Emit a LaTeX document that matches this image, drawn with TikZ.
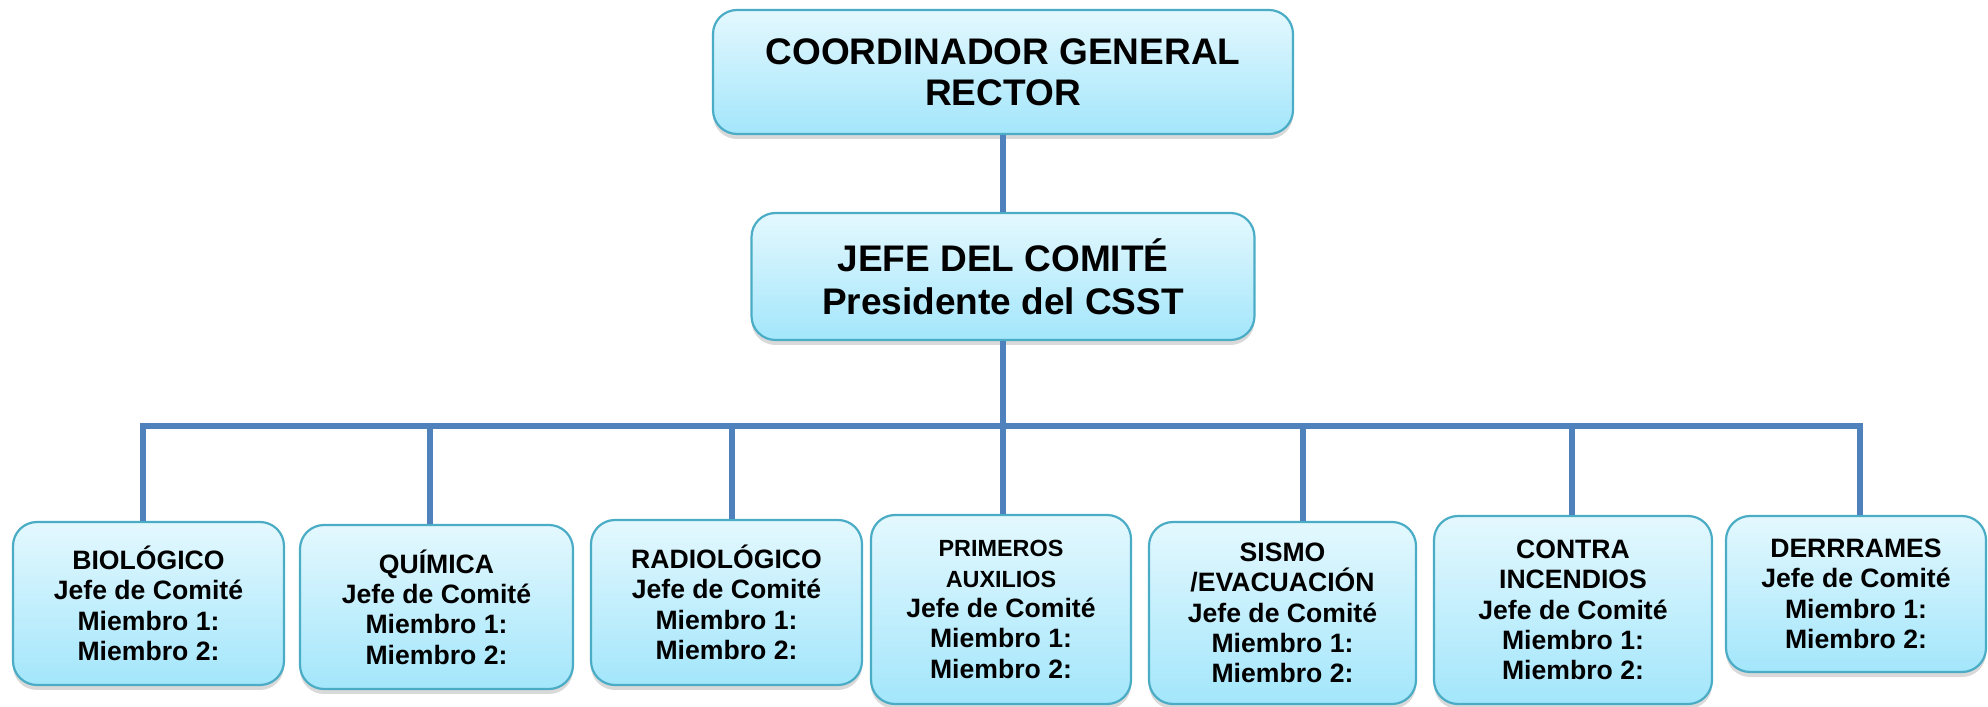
\documentclass[tikz,border=0pt]{standalone}
\usepackage{fontspec}
\setmainfont{Liberation Sans}
\usepackage{tikz}
\usetikzlibrary{shadows}
\definecolor{cajaborde}{HTML}{4BACC6}
\definecolor{cajaarriba}{HTML}{E4F8FE}
\definecolor{cajaabajo}{HTML}{A3E6FB}
\definecolor{enlaceazul}{HTML}{4F81BD}
\newcommand{\chica}{\fontsize{11.7}{15.2}\selectfont}
\newcommand{\normalcaja}{\fontsize{13.3}{15.2}\selectfont}

\begin{document}
\begin{tikzpicture}[x=0.5pt, y=0.5pt,
  caja/.style={draw=cajaborde, line width=1.1pt, rounded corners=12pt,
    top color=cajaarriba, bottom color=cajaabajo, align=center, inner sep=2pt,
    font=\bfseries\normalcaja,
    drop shadow={opacity=0.3, shadow xshift=0pt, shadow yshift=-2.5pt}},
  enlace/.style={enlaceazul, line width=2.8pt}]
  \useasboundingbox (0,0) rectangle (1988,707);

  % cabeza
  \node[caja, minimum width=290pt, minimum height=62pt,
        font=\bfseries\fontsize{18.5}{20.7}\selectfont] (coord) at (1003,635)
        {COORDINADOR GENERAL\\RECTOR};
  \node[caja, minimum width=251.5pt, minimum height=63.5pt,
        font=\bfseries\fontsize{18.5}{21.5}\selectfont] (jefe) at (1003,430.5)
        {JEFE DEL COMIT\'E\\Presidente del CSST};

  % comites
  \node[caja, minimum width=135.5pt, minimum height=81.5pt] (bio) at (148.5,103.5)
        {BIOL\'OGICO\\Jefe de Comit\'e\\Miembro 1:\\Miembro 2:};
  \node[caja, minimum width=136.5pt, minimum height=82pt] (qui) at (436.5,100)
        {QU\'IMICA\\Jefe de Comit\'e\\Miembro 1:\\Miembro 2:};
  \node[caja, minimum width=135.5pt, minimum height=82.5pt] (rad) at (726.5,104.5)
        {RADIOL\'OGICO\\Jefe de Comit\'e\\Miembro 1:\\Miembro 2:};
  \node[caja, minimum width=130pt, minimum height=94.5pt] (pri) at (1001,97.5)
        {\chica PRIMEROS\\\chica AUXILIOS\\\normalcaja Jefe de Comit\'e\\Miembro 1:\\Miembro 2:};
  \node[caja, minimum width=133.5pt, minimum height=91pt] (sis) at (1282.5,94)
        {SISMO\\/EVACUACI\'ON\\Jefe de Comit\'e\\Miembro 1:\\Miembro 2:};
  \node[caja, minimum width=139pt, minimum height=94pt] (con) at (1573,97)
        {CONTRA\\INCENDIOS\\Jefe de Comit\'e\\Miembro 1:\\Miembro 2:};
  \node[caja, minimum width=130pt, minimum height=78pt] (der) at (1856,113)
        {DERRRAMES\\Jefe de Comit\'e\\Miembro 1:\\Miembro 2:};

  % puntos de bajada sobre la barra
  \coordinate (d-bio) at (143,281);
  \coordinate (d-qui) at (430,281);
  \coordinate (d-rad) at (732,281);
  \coordinate (d-pri) at (1003,281);
  \coordinate (d-sis) at (1303,281);
  \coordinate (d-con) at (1572,281);
  \coordinate (d-der) at (1860,281);

  \draw[enlace] (coord.south) -- (jefe.north);
  \draw[enlace] (jefe.south) -- (d-pri);
  \draw[enlace] (d-bio |- bio.north) -- (d-bio) -- (d-der) -- (d-der |- der.north);
  \foreach \c in {qui,rad,pri,sis,con}{
    \draw[enlace] (d-\c) -- (d-\c |- \c.north);
  };
\end{tikzpicture}
\end{document}
